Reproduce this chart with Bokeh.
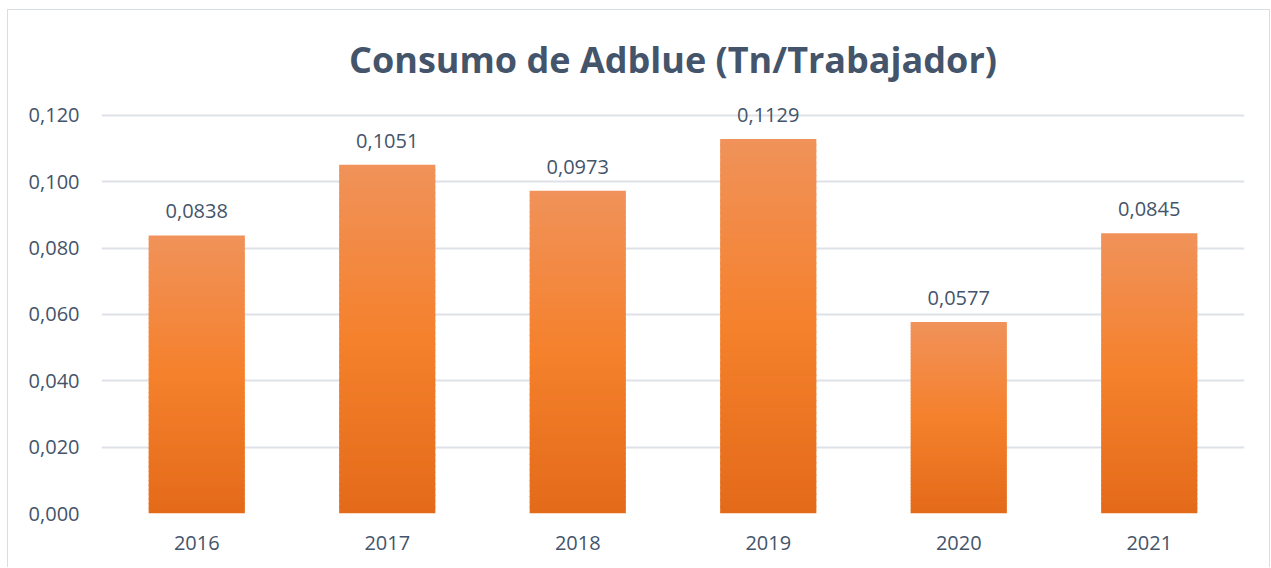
from bokeh.plotting import figure
from bokeh.models import Range1d, FixedTicker, CustomJSTickFormatter, ColumnDataSource, LabelSet
from bokeh.core.properties import value
from bokeh.embed import file_html
from bokeh.resources import INLINE

# ---- data ----
years = ["2016", "2017", "2018", "2019", "2020", "2021"]
consumo = [0.0838, 0.1051, 0.0973, 0.1129, 0.0577, 0.0845]
y_ticks = [0.0, 0.02, 0.04, 0.06, 0.08, 0.10, 0.12]
title_text = "Consumo de Adblue (Tn/Trabajador)"

FONT = "Open Sans"
TXT = "#44546A"
GRID = "#DEE2E8"
W, H = 1263, 558

# y range extends slightly past 0,120 so the top data label has room (no grid line there)
p = figure(x_range=years, y_range=Range1d(0, 0.126), width=W, height=H,
           output_backend="svg", toolbar_location=None,
           min_border_left=93, min_border_right=27, min_border_top=85, min_border_bottom=55)
p.styles = {"margin-left": "7px", "margin-top": "9px",
            "border-top": "1px solid #D9DEE5", "border-left": "1px solid #D9DEE5",
            "border-right": "1px solid #D9DEE5"}
p.outline_line_color = None
p.background_fill_color = "white"
p.border_fill_color = "white"

p.title.text = title_text
p.title.align = "center"
p.title.text_font = FONT
p.title.text_font_size = "36px"
p.title.text_font_style = "bold"
p.title.text_color = TXT
p.title.standoff = 24

# gradient bars (stacked thin slices)
stops = [(0.0, (227, 106, 25)), (0.5, (245, 129, 44)), (1.0, (240, 146, 90))]
def col_at(t):
    for (t0, c0), (t1, c1) in zip(stops[:-1], stops[1:]):
        if t <= t1:
            f = (t - t0) / (t1 - t0)
            return "#%02x%02x%02x" % tuple(int(round(a + (b - a) * f)) for a, b in zip(c0, c1))
    return "#%02x%02x%02x" % stops[-1][1]

N = 60
xs, bots, tops, cols = [], [], [], []
for yr, v in zip(years, consumo):
    for i in range(N):
        xs.append(yr)
        bots.append(v * i / N)
        tops.append(v * (i + 1) / N + (v * 0.004 if i < N - 1 else 0))
        cols.append(col_at((i + 0.5) / N))
p.vbar(x=xs, bottom=bots, top=tops, width=0.505, fill_color=cols, line_color=None)

# data labels
labels = [f"{v:.4f}".replace(".", ",") for v in consumo]
src = ColumnDataSource(dict(x=years, y=consumo, t=labels))
p.add_layout(LabelSet(x="x", y="y", text="t", source=src, text_align="center",
                      text_baseline="bottom", y_offset=17, text_font=value(FONT),
                      text_font_size=value("20px"), text_color=TXT))

# axes
p.yaxis.ticker = FixedTicker(ticks=y_ticks)
p.yaxis.formatter = CustomJSTickFormatter(code="return tick.toFixed(3).replace('.', ',');")
for ax in (p.xaxis[0], p.yaxis[0]):
    ax.axis_line_color = None
    ax.major_tick_line_color = None
    ax.minor_tick_line_color = None
    ax.major_label_text_font = FONT
    ax.major_label_text_font_size = "20px"
    ax.major_label_text_color = TXT
p.yaxis.major_label_standoff = 16
p.xaxis.major_label_standoff = 16

p.xgrid.grid_line_color = None
p.ygrid.grid_line_color = GRID
p.ygrid.grid_line_width = 2
p.ygrid.ticker = FixedTicker(ticks=y_ticks)

open("out.html", "w").write(file_html(p, INLINE))
